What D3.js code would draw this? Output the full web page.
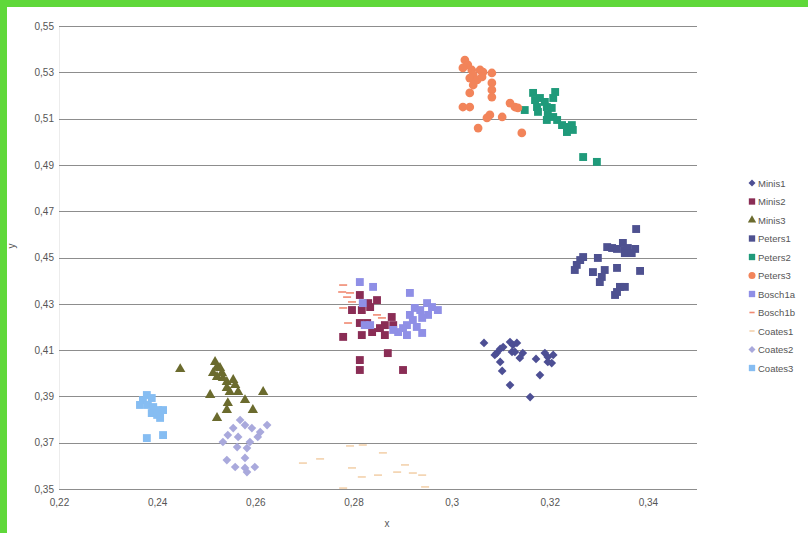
<!DOCTYPE html>
<html>
<head>
<meta charset="utf-8">
<script src="https://cdn.jsdelivr.net/npm/d3@7"></script>
<style>
  html, body { margin: 0; padding: 0; background: #5fd83a; }
  svg { display: block; }
</style>
</head>
<body>
<svg id="chart"></svg>
<script>
const xTicks = [0.22, 0.24, 0.26, 0.28, 0.3, 0.32, 0.34]
const yTicks = [0.35, 0.37, 0.39, 0.41, 0.43, 0.45, 0.47, 0.49, 0.51, 0.53, 0.55]

const seriesNames = ['Minis1', 'Minis2', 'Minis3', 'Peters1', 'Peters2', 'Peters3', 'Bosch1a', 'Bosch1b', 'Coates1', 'Coates2', 'Coates3']

const minis1 = [[0.3066,0.4131],[0.3092,0.4087],[0.3099,0.4105],[0.3105,0.4113],[0.3119,0.4135],[0.3125,0.4122],[0.3133,0.4131],[0.3123,0.4092],[0.3129,0.4092],[0.3145,0.4087],[0.3139,0.4066],[0.3099,0.4049],[0.3088,0.4079],[0.3103,0.4010],[0.3119,0.3949],[0.3160,0.3897],[0.3172,0.4062],[0.3180,0.3992],[0.3190,0.4087],[0.3196,0.4070],[0.3207,0.4079],[0.3196,0.4049],[0.3204,0.4044]]
const minis2 = [[0.2813,0.4338],[0.2830,0.4303],[0.2848,0.4316],[0.2797,0.4273],[0.2817,0.4273],[0.2834,0.4286],[0.2813,0.4217],[0.2817,0.4165],[0.2779,0.4157],[0.2838,0.4178],[0.2854,0.4195],[0.2864,0.4165],[0.2864,0.4208],[0.2878,0.4243],[0.2881,0.4208],[0.2870,0.4087],[0.2813,0.4057],[0.2813,0.4014],[0.2901,0.4014],[0.2828,0.4217]]
const minis3 = [[0.2447,0.4018],[0.2518,0.4049],[0.2522,0.4027],[0.2514,0.4001],[0.2528,0.4023],[0.2532,0.4001],[0.2522,0.3984],[0.2534,0.3979],[0.2542,0.3962],[0.2555,0.3971],[0.2559,0.3949],[0.2542,0.3936],[0.2565,0.3919],[0.2548,0.3919],[0.2616,0.3919],[0.2508,0.3906],[0.2579,0.3884],[0.2544,0.3871],[0.2542,0.3841],[0.2595,0.3841],[0.2522,0.3807]]
const peters1 = [[0.3376,0.4623],[0.3317,0.4545],[0.3327,0.4541],[0.3337,0.4537],[0.3349,0.4563],[0.3353,0.4532],[0.3359,0.4541],[0.3374,0.4537],[0.3353,0.4519],[0.3367,0.4519],[0.3268,0.4502],[0.3262,0.4489],[0.3298,0.4498],[0.3255,0.4468],[0.3251,0.4446],[0.3288,0.4437],[0.3312,0.4446],[0.3337,0.4455],[0.3384,0.4442],[0.3306,0.4416],[0.3302,0.4394],[0.3343,0.4373],[0.3353,0.4373],[0.3333,0.4338],[0.3337,0.4351]]
const peters2 = [[0.3149,0.5137],[0.3166,0.5211],[0.3170,0.5180],[0.3180,0.5189],[0.3190,0.5172],[0.3174,0.5150],[0.3176,0.5129],[0.3194,0.5150],[0.3211,0.5215],[0.3207,0.5189],[0.3204,0.5146],[0.3196,0.5116],[0.3194,0.5094],[0.3207,0.5107],[0.3215,0.5094],[0.3225,0.5072],[0.3235,0.5064],[0.3245,0.5072],[0.3247,0.5051],[0.3235,0.5042],[0.3268,0.4934],[0.3296,0.4913]]
const peters3 = [[0.3027,0.5353],[0.3033,0.5332],[0.3023,0.5319],[0.3041,0.5310],[0.3058,0.5310],[0.3064,0.5301],[0.3082,0.5297],[0.3044,0.5288],[0.3037,0.5275],[0.3052,0.5267],[0.3062,0.5280],[0.3044,0.5245],[0.3082,0.5254],[0.3082,0.5224],[0.3037,0.5211],[0.3082,0.5193],[0.3023,0.5150],[0.3037,0.5150],[0.3119,0.5167],[0.3129,0.5150],[0.3135,0.5146],[0.3078,0.5116],[0.3072,0.5103],[0.3103,0.5107],[0.3054,0.5059],[0.3143,0.5038]]
const bosch1a = [[0.2813,0.4394],[0.2840,0.4373],[0.2819,0.4303],[0.2823,0.4208],[0.2834,0.4208],[0.2915,0.4347],[0.2925,0.4282],[0.2936,0.4273],[0.2950,0.4303],[0.2960,0.4286],[0.2972,0.4273],[0.2952,0.4252],[0.2940,0.4239],[0.2915,0.4252],[0.2921,0.4230],[0.2909,0.4208],[0.2901,0.4195],[0.2891,0.4178],[0.2909,0.4165],[0.2940,0.4174],[0.2881,0.4187],[0.2929,0.4200]]
const bosch1b = [[0.2779,0.4381],[0.2777,0.4351],[0.2787,0.4329],[0.2793,0.4347],[0.2779,0.4282],[0.2789,0.4217],[0.2848,0.4252],[0.2858,0.4239],[0.2797,0.4308]]
const coates1 = [[0.2793,0.3686],[0.2819,0.3690],[0.2860,0.3656],[0.2697,0.3612],[0.2732,0.3630],[0.2797,0.3591],[0.2817,0.3552],[0.2850,0.3560],[0.2889,0.3573],[0.2905,0.3604],[0.2921,0.3569],[0.2940,0.3560],[0.2946,0.3509],[0.2779,0.3504]]
const coates2 = [[0.2569,0.3798],[0.2579,0.3776],[0.2593,0.3763],[0.2624,0.3776],[0.2610,0.3746],[0.2555,0.3763],[0.2544,0.3733],[0.2565,0.3725],[0.2605,0.3725],[0.2534,0.3703],[0.2589,0.3703],[0.2563,0.3681],[0.2583,0.3677],[0.2542,0.3625],[0.2579,0.3634],[0.2559,0.3595],[0.2579,0.3591],[0.2599,0.3595],[0.2583,0.3573]]
const coates3 = [[0.2379,0.3906],[0.2371,0.3884],[0.2389,0.3893],[0.2365,0.3863],[0.2381,0.3863],[0.2392,0.3854],[0.2402,0.3841],[0.2412,0.3841],[0.2389,0.3828],[0.2400,0.3820],[0.2406,0.3807],[0.2379,0.3720],[0.2412,0.3733]]

const seriesValues = [minis1, minis2, minis3, peters1, peters2, peters3, bosch1a, bosch1b, coates1, coates2, coates3]

// marker look per series
const styles = [
  { shape: 'diamond', color: '#4d4f94' },
  { shape: 'square', color: '#8a2d55' },
  { shape: 'triangle', color: '#6b6b2e' },
  { shape: 'square', color: '#4e5190' },
  { shape: 'square', color: '#1f9a7a' },
  { shape: 'circle', color: '#f2845a' },
  { shape: 'square', color: '#8f8fe6' },
  { shape: 'dash', color: '#f08a72' },
  { shape: 'dash', color: '#f3d2ad' },
  { shape: 'diamond', color: '#a9a9dc' },
  { shape: 'square', color: '#86bdf2' }
]

const W = 808, H = 533
const svg = d3.select('#chart').attr('width', W).attr('height', H)

// white panel inside the green frame
svg.append('rect').attr('x', 7).attr('y', 7).attr('width', W - 7).attr('height', H - 7).attr('fill', '#fff')

const x = d3.scaleLinear().domain([0.22, 0.35]).range([59, 697])
const y = d3.scaleLinear().domain([0.35, 0.55]).range([489, 26])
const fmt = (d) => String(d).replace('.', ',')

// faint left edge
svg.append('line')
  .attr('x1', 59.5).attr('x2', 59.5)
  .attr('y1', y(0.55)).attr('y2', y(0.35))
  .attr('stroke', '#ececec')

// horizontal grid
svg.selectAll('.ygrid')
  .data(yTicks)
  .join('line')
  .attr('class', 'ygrid')
  .attr('x1', x(0.22)).attr('x2', x(0.35))
  .attr('y1', (d) => Math.round(y(d)) + 0.5)
  .attr('y2', (d) => Math.round(y(d)) + 0.5)
  .attr('stroke', '#8d8d8d')
  .attr('stroke-width', 1)

// y axis
svg.append('g')
  .attr('transform', 'translate(54,0)')
  .call(d3.axisLeft(y).tickValues(yTicks).tickFormat(fmt).tickSize(0).tickPadding(0))
  .call((g) => g.select('.domain').remove())
  .selectAll('text')
  .style('font-family', 'Liberation Sans, Arial, sans-serif')
  .style('font-size', '10px')
  .attr('fill', '#555')

// x axis
svg.append('g')
  .attr('transform', 'translate(0,499)')
  .call(d3.axisBottom(x).tickValues(xTicks).tickFormat(fmt).tickSize(0).tickPadding(0))
  .call((g) => g.select('.domain').remove())
  .selectAll('text')
  .style('font-family', 'Liberation Sans, Arial, sans-serif')
  .style('font-size', '10px')
  .attr('fill', '#555')

// axis titles
svg.append('text')
  .attr('transform', 'translate(15,246) rotate(-90)')
  .attr('text-anchor', 'middle')
  .style('font-family', 'Liberation Sans, Arial, sans-serif')
  .style('font-size', '10px')
  .attr('fill', '#555')
  .text('y')

svg.append('text')
  .attr('x', 387).attr('y', 527)
  .attr('text-anchor', 'middle')
  .style('font-family', 'Liberation Sans, Arial, sans-serif')
  .style('font-size', '10px')
  .attr('fill', '#555')
  .text('x')

const drawMarker = (sel, shape, color, scale) => {
  if (shape === 'square') {
    sel.append('path').attr('d', d3.symbol(d3.symbolSquare, 62 * scale)()).attr('fill', color)
  } else if (shape === 'diamond') {
    sel.append('path').attr('d', d3.symbol(d3.symbolSquare, 38 * scale)()).attr('transform', 'rotate(45)').attr('fill', color)
  } else if (shape === 'triangle') {
    sel.append('path').attr('d', d3.symbol(d3.symbolTriangle, 46 * scale)()).attr('fill', color)
  } else if (shape === 'circle') {
    sel.append('path').attr('d', d3.symbol(d3.symbolCircle, 60 * scale)()).attr('fill', color)
  } else {
    sel.append('rect').attr('x', -4 * scale).attr('y', -0.8).attr('width', 8 * scale).attr('height', 1.6).attr('fill', color)
  }
}

// points
seriesValues.forEach((vals, i) => {
  const st = styles[i]
  svg.append('g')
    .attr('class', 'series-' + seriesNames[i])
    .selectAll('g')
    .data(vals)
    .join('g')
    .attr('transform', (d) => `translate(${x(d[0])},${y(d[1])})`)
    .each(function () { drawMarker(d3.select(this), st.shape, st.color, 1) })
})

// legend
const legend = svg.append('g').attr('transform', 'translate(752,183)')
seriesNames.forEach((name, i) => {
  const item = legend.append('g').attr('transform', `translate(0,${i * 18.5})`)
  drawMarker(item, styles[i].shape, styles[i].color, 0.65)
  item.append('text')
    .attr('x', 6).attr('y', 3.5)
    .style('font-family', 'Liberation Sans, Arial, sans-serif')
    .style('font-size', '9.5px')
    .attr('fill', '#555')
    .text(name)
})
</script>
</body>
</html>
